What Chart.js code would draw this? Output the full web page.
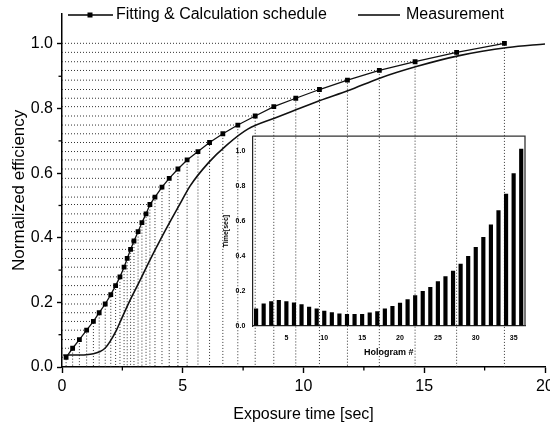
<!DOCTYPE html>
<html>
<head>
<meta charset="utf-8">
<script src="https://cdn.jsdelivr.net/npm/chart.js@4/dist/chart.umd.min.js"></script>
<style>
  body { margin: 0; background: #fff; }
  #wrap { position: relative; width: 550px; height: 426px; }
  #mainChart { position: absolute; left: 0; top: 0; }
  #insetChart { position: absolute; left: 200px; top: 125px; }
</style>
</head>
<body>
<div id="wrap">
  <canvas id="mainChart" width="550" height="426"></canvas>
  <canvas id="insetChart" width="335" height="240"></canvas>
</div>
<script>
// Fitting & calculation schedule (cumulative exposure time vs efficiency)
let fitTime = [0.17, 0.44, 0.72, 1.02, 1.30, 1.54, 1.79, 2.02, 2.22, 2.40, 2.57, 2.70,
               2.84, 2.98, 3.15, 3.31, 3.48, 3.64, 3.85, 4.14, 4.44, 4.80, 5.18, 5.63,
               6.11, 6.66, 7.28, 8.00, 8.77, 9.68, 10.66, 11.82, 13.14, 14.62, 16.34, 18.32];
let fitEff = [0.030, 0.058, 0.085, 0.114, 0.141, 0.168, 0.195, 0.224, 0.252, 0.279, 0.309, 0.336,
              0.364, 0.390, 0.419, 0.447, 0.474, 0.503, 0.526, 0.557, 0.584, 0.613, 0.641, 0.667,
              0.695, 0.722, 0.749, 0.777, 0.806, 0.832, 0.859, 0.888, 0.918, 0.945, 0.974, 1.002];

// Measurement curve
let measTime = [0.05, 0.5, 1.0, 1.3, 1.55, 1.78, 2.0, 2.26, 2.47, 2.82, 3.23, 3.64, 4.06,
                4.47, 4.96, 5.3, 6.06, 6.82, 7.71, 8.82, 9.71, 10.68, 11.86, 13.18, 14.71,
                16.45, 18.46, 20.0];
let measEff = [0.037, 0.037, 0.038, 0.041, 0.047, 0.058, 0.080, 0.115, 0.150, 0.207, 0.268, 0.331, 0.392,
               0.449, 0.515, 0.560, 0.632, 0.687, 0.737, 0.771, 0.797, 0.825, 0.856, 0.895, 0.931,
               0.964, 0.989, 1.000];

// Inset: exposure time per hologram
let hologramNo = ['1', '2', '3', '4', '5', '6', '7', '8', '9', '10', '11', '12',
                  '13', '14', '15', '16', '17', '18', '19', '20', '21', '22', '23', '24',
                  '25', '26', '27', '28', '29', '30', '31', '32', '33', '34', '35', '36'];
let holoTime = [0.100, 0.129, 0.142, 0.148, 0.142, 0.134, 0.125, 0.110, 0.100, 0.087, 0.078, 0.072,
                0.068, 0.068, 0.068, 0.077, 0.085, 0.100, 0.115, 0.133, 0.153, 0.176, 0.200, 0.223,
                0.256, 0.284, 0.316, 0.356, 0.400, 0.451, 0.509, 0.580, 0.661, 0.756, 0.873, 1.013];

// Axis ticks
let xMajor = 5;
let yMajor = 0.2;
let minorXTicks = [2.5, 7.5, 12.5, 17.5];
let minorYTicks = [0.1, 0.3, 0.5, 0.7, 0.9];

const FONT = "'Liberation Sans', Arial, Helvetica, sans-serif";

// dotted guide lines: from y-axis to each marker, then down to x-axis
let guidePoints = [];
fitTime.forEach((t, i) => {
  guidePoints.push({x: 0, y: fitEff[i]}, {x: t, y: fitEff[i]}, {x: t, y: 0}, {x: t, y: null});
});

// minor ticks + legend drawn on top
const extrasPlugin = {
  id: 'extras',
  afterDraw(chart) {
    const {ctx, scales: {x, y}} = chart;
    ctx.save();
    ctx.strokeStyle = '#000';
    ctx.lineWidth = 1.3;
    minorXTicks.forEach(v => {
      const px = x.getPixelForValue(v);
      ctx.beginPath(); ctx.moveTo(px, y.bottom); ctx.lineTo(px, y.bottom + 3.5); ctx.stroke();
    });
    minorYTicks.forEach(v => {
      const py = y.getPixelForValue(v);
      ctx.beginPath(); ctx.moveTo(x.left, py); ctx.lineTo(x.left - 3.5, py); ctx.stroke();
    });

    // legend
    ctx.lineWidth = 1.4;
    ctx.beginPath(); ctx.moveTo(68, 15); ctx.lineTo(113, 15); ctx.stroke();
    ctx.fillStyle = '#000';
    ctx.fillRect(87.5, 12.5, 5, 5);
    ctx.beginPath(); ctx.moveTo(358, 15); ctx.lineTo(400, 15); ctx.stroke();
    ctx.font = '16px ' + FONT;
    ctx.textBaseline = 'middle';
    ctx.textAlign = 'left';
    ctx.fillText('Fitting & Calculation schedule', 116, 15);
    ctx.fillText('Measurement', 406, 15);
    ctx.restore();
  }
};

new Chart(document.getElementById('mainChart'), {
  type: 'line',
  data: {
    datasets: [{
      label: 'Fitting & Calculation schedule',
      data: fitTime.map((t, i) => ({x: t, y: fitEff[i]})),
      borderColor: '#111',
      borderWidth: 1.3,
      pointStyle: 'rect',
      pointRadius: 3.4,
      pointBackgroundColor: '#000',
      pointBorderWidth: 0,
      tension: 0
    }, {
      label: 'Measurement',
      data: measTime.map((t, i) => ({x: t, y: measEff[i]})),
      borderColor: '#111',
      borderWidth: 1.6,
      pointRadius: 0,
      cubicInterpolationMode: 'monotone'
    }, {
      label: 'guides',
      data: guidePoints,
      borderColor: '#333',
      borderWidth: 1,
      borderDash: [1, 2],
      pointRadius: 0,
      spanGaps: false,
      tension: 0
    }]
  },
  options: {
    responsive: false,
    animation: false,
    layout: {padding: {top: 12, right: 5, left: 0, bottom: 0}},
    plugins: {legend: {display: false}, tooltip: {enabled: false}},
    scales: {
      x: {
        type: 'linear',
        min: 0,
        max: 20,
        ticks: {stepSize: xMajor, color: '#000', font: {family: FONT, size: 16}, padding: 4},
        grid: {drawOnChartArea: false, tickLength: 6, tickColor: '#000', tickWidth: 1.4},
        border: {color: '#000', width: 1.5},
        title: {display: true, text: 'Exposure time [sec]', color: '#000',
                font: {family: FONT, size: 16}, padding: {top: 0, bottom: 2}},
        afterFit: s => { s.height = 59; s.paddingLeft = 0; s.paddingRight = 0; }
      },
      y: {
        type: 'linear',
        min: 0,
        max: 1.094,
        afterBuildTicks: s => { s.ticks = s.ticks.filter(t => t.value <= 1.0001); },
        ticks: {stepSize: yMajor, color: '#000', font: {family: FONT, size: 16}, padding: 4,
                callback: v => v.toFixed(1)},
        grid: {drawOnChartArea: false, tickLength: 5, tickColor: '#000', tickWidth: 1.4},
        border: {color: '#000', width: 1.5},
        title: {display: true, text: 'Normalized efficiency', color: '#000',
                font: {family: FONT, size: 17}, padding: {top: 9, bottom: 0}},
        afterFit: s => { s.width = 62; }
      }
    }
  },
  plugins: [extrasPlugin]
});

// frame around inset plot area
const insetFrame = {
  id: 'insetFrame',
  afterDraw(chart) {
    const {ctx, chartArea: a} = chart;
    ctx.save();
    ctx.strokeStyle = '#333';
    ctx.lineWidth = 1.3;
    ctx.beginPath();
    ctx.moveTo(a.left, a.top); ctx.lineTo(a.right, a.top); ctx.lineTo(a.right, a.bottom);
    ctx.stroke();
    ctx.restore();
  }
};

new Chart(document.getElementById('insetChart'), {
  type: 'bar',
  data: {
    labels: hologramNo,
    datasets: [{
      label: 'Time[sec]',
      data: holoTime,
      backgroundColor: '#000',
      barPercentage: 0.55,
      categoryPercentage: 1.0
    }]
  },
  options: {
    responsive: false,
    animation: false,
    layout: {padding: {top: 10, right: 10, left: 0, bottom: 0}},
    plugins: {legend: {display: false}, tooltip: {enabled: false}},
    scales: {
      x: {
        ticks: {
          autoSkip: false, maxRotation: 0, color: '#000', padding: 8,
          font: {family: FONT, size: 7, weight: 'bold'},
          callback: function (v, i) { return (i + 1) % 5 === 0 ? this.getLabelForValue(v) : ''; }
        },
        grid: {drawOnChartArea: false, drawTicks: false},
        border: {color: '#222', width: 1.2},
        title: {display: true, text: 'Hologram #', color: '#000',
                font: {family: FONT, size: 9, weight: 'bold'}, padding: {top: 0, bottom: 7}},
        afterFit: s => { s.height = 39; }
      },
      y: {
        min: 0,
        max: 1.085,
        afterBuildTicks: s => { s.ticks = s.ticks.filter(t => t.value <= 1.0001); },
        ticks: {stepSize: 0.2, color: '#000', padding: 7,
                font: {family: FONT, size: 7, weight: 'bold'},
                callback: v => v.toFixed(1)},
        grid: {drawOnChartArea: false, drawTicks: false},
        border: {color: '#222', width: 1.2},
        title: {display: true, text: 'Time[sec]', color: '#000',
                font: {family: FONT, size: 7, weight: 'bold'}, padding: {top: 22, bottom: 0}},
        afterFit: s => { s.width = 52.3; }
      }
    }
  },
  plugins: [insetFrame]
});
</script>
</body>
</html>
